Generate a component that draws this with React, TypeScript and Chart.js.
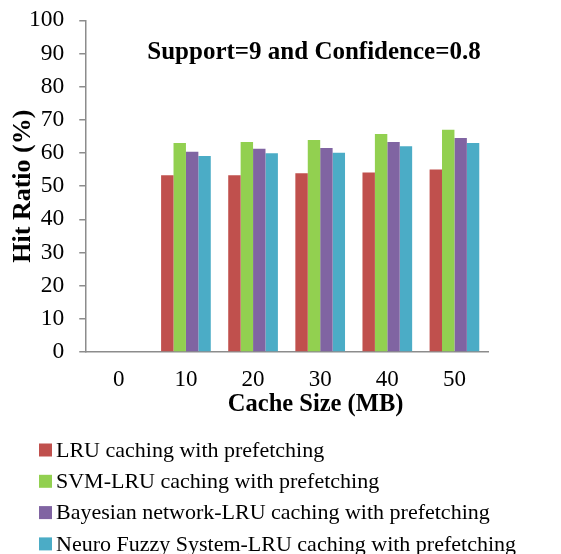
import React, { useEffect, useRef } from "react";
import { Chart, registerables } from "chart.js";

Chart.register(...registerables);

const categories = ["0", "10", "20", "30", "40", "50"];
const lruValues = [0, 53.3, 53.3, 53.9, 54.1, 55.0];
const svmValues = [0, 63.0, 63.3, 63.9, 65.7, 67.0];
const bayesValues = [0, 60.4, 61.3, 61.5, 63.3, 64.5];
const neuroValues = [0, 59.1, 59.9, 60.1, 62.0, 63.0];
const seriesNames = [
  "LRU caching with prefetching",
  "SVM-LRU caching with prefetching",
  "Bayesian network-LRU caching with prefetching",
  "Neuro Fuzzy System-LRU caching with prefetching",
];
const seriesColors = ["#C0504D", "#92D050", "#8064A2", "#4BACC6"];
const chartTitle = "Support=9 and Confidence=0.8";
const xTitle = "Cache Size (MB)";
const yTitle = "Hit Ratio (%)";

const FONT = "'Liberation Serif', 'Times New Roman', serif";

export default function App() {
  const ref = useRef<HTMLCanvasElement | null>(null);
  useEffect(() => {
    if (!ref.current) return;
    const overlay = {
      id: "overlay",
      afterDraw(chart: any) {
        const ctx = chart.ctx;
        const ca = chart.chartArea;
        ctx.save();
        ctx.fillStyle = "#000";
        ctx.textAlign = "center";
        ctx.textBaseline = "middle";
        // chart title inside plot area
        ctx.font = `bold 25px ${FONT}`;
        ctx.fillText(chartTitle, 314, 53);
        // x axis title
        ctx.font = `bold 24.5px ${FONT}`;
        ctx.fillText(xTitle, (ca.left + ca.right) / 2 + 29, ca.bottom + 53);
        // y axis title
        ctx.save();
        ctx.translate(23.5, (ca.top + ca.bottom) / 2);
        ctx.rotate(-Math.PI / 2);
        ctx.font = `bold 26px ${FONT}`;
        ctx.fillText(yTitle, 0, 0);
        ctx.restore();
        // legend
        ctx.textAlign = "left";
        ctx.font = `22px ${FONT}`;
        chart.data.datasets.forEach((ds: any, i: number) => {
          const cy = 450 + i * 31.3;
          ctx.fillStyle = ds.backgroundColor;
          ctx.fillRect(39, cy - 6.5, 13, 13);
          ctx.fillStyle = "#000";
          ctx.fillText(ds.label, 56, cy + 1);
        });
        ctx.restore();
      },
    };
    const chart = new Chart(ref.current, {
      type: "bar",
      data: {
        labels: categories,
        datasets: [lruValues, svmValues, bayesValues, neuroValues].map((d, i) => ({
          label: seriesNames[i],
          data: d,
          backgroundColor: seriesColors[i],
          borderWidth: 0,
          barPercentage: 1,
          categoryPercentage: 0.74,
        })),
      },
      options: {
        animation: false,
        responsive: false,
        layout: { padding: { top: 0, right: 73, left: 14, bottom: 117 } },
        plugins: {
          legend: { display: false },
          tooltip: { enabled: false },
        },
        scales: {
          x: {
            grid: { display: false, drawTicks: false },
            border: { color: "#8c8c8c", width: 1.5 },
            ticks: { font: { family: FONT, size: 23 }, color: "#000", padding: 14 },
            title: {
              display: true,
              text: xTitle,
              color: "rgba(0,0,0,0)",
              font: { family: FONT, size: 24.5, weight: "bold" },
              padding: { top: 0, bottom: 0 },
            },
          },
          y: {
            min: 0,
            max: 100,
            grid: { drawOnChartArea: false, drawTicks: true, tickLength: 6, color: "#8c8c8c", lineWidth: 1.5 },
            border: { color: "#8c8c8c", width: 1.5 },
            ticks: {
              stepSize: 10,
              autoSkip: false,
              font: { family: FONT, size: 23.5, lineHeight: 0.45 },
              color: "#000",
              padding: 15,
            },
          },
        },
      },
      plugins: [overlay],
    });
    return () => chart.destroy();
  }, []);
  return (
    <div style={{ position: "absolute", left: 0, top: 0, width: 561, height: 554, background: "#fff" }}>
      <canvas ref={ref} width={561} height={554} />
    </div>
  );
}
